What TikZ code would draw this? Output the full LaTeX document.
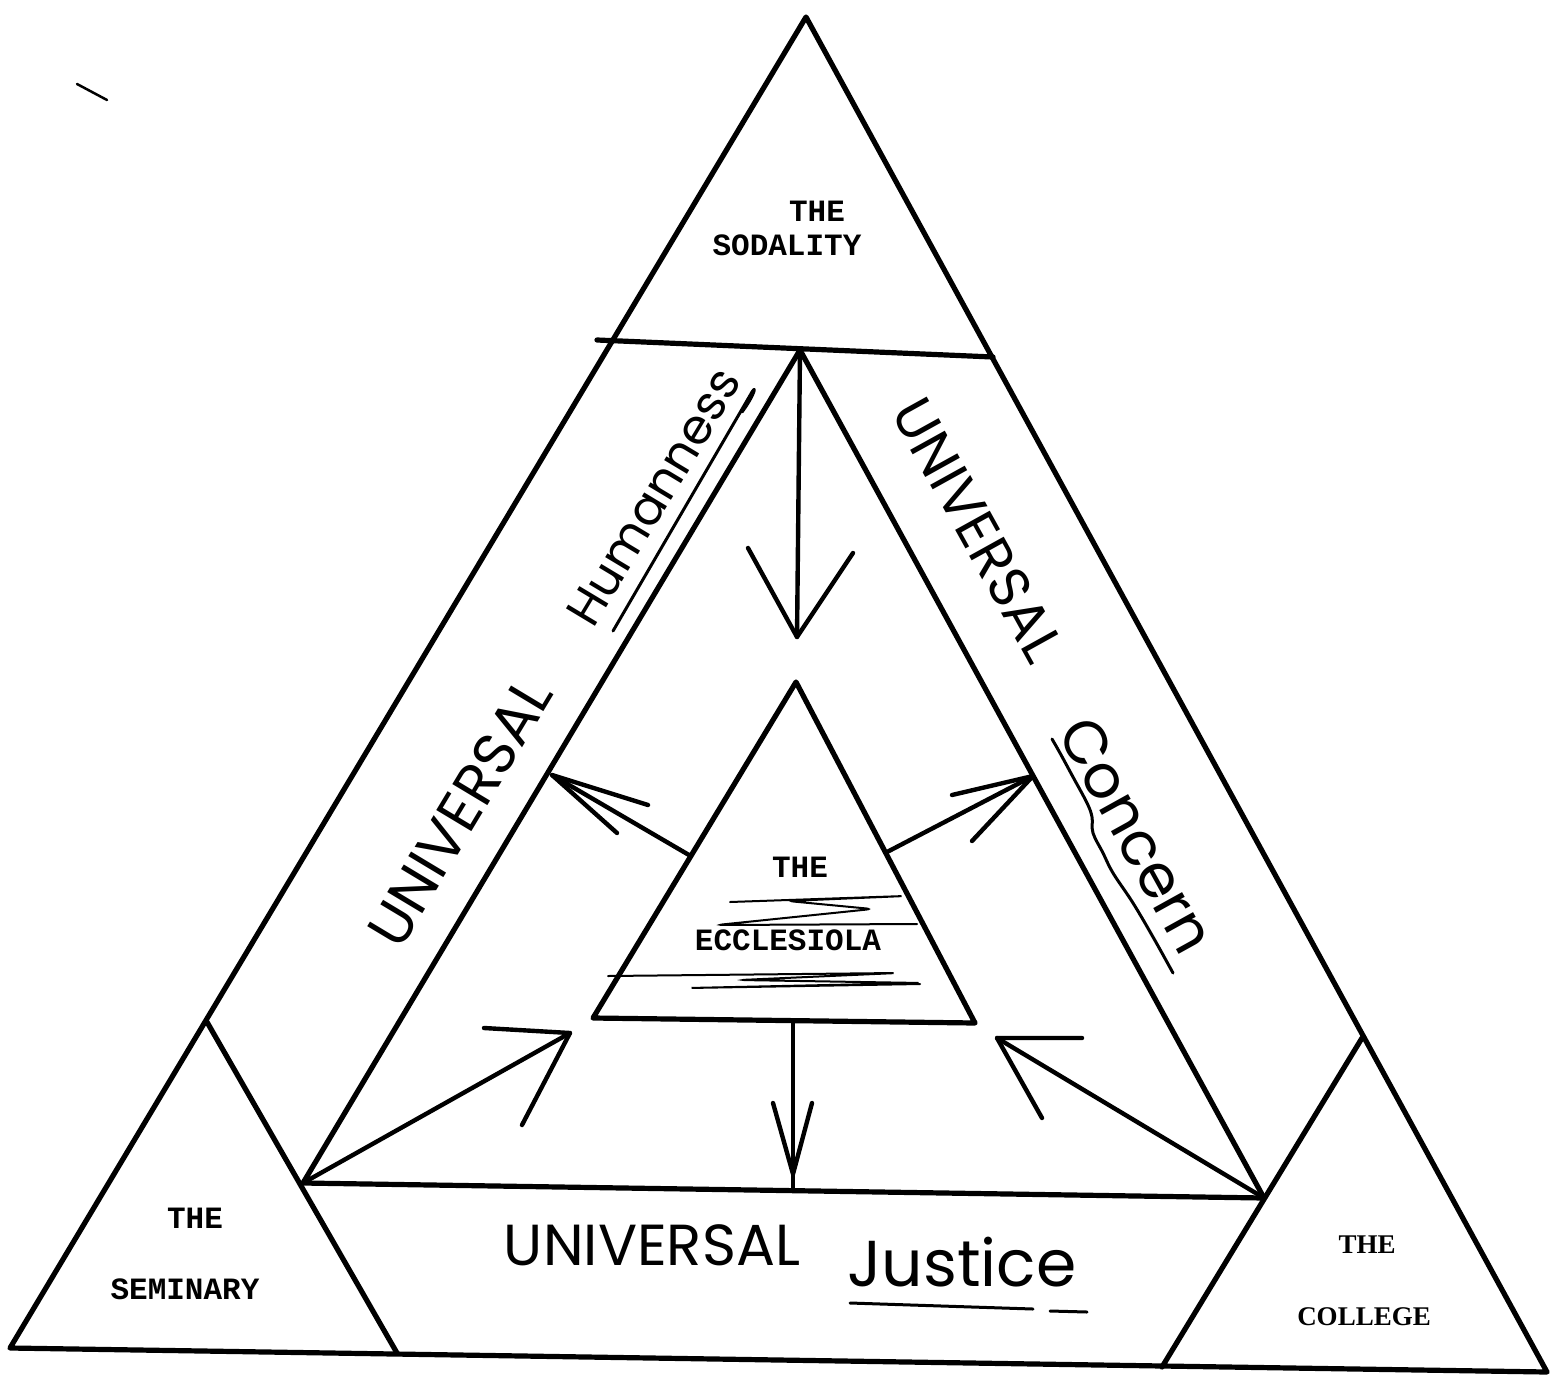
\documentclass[tikz,border=0pt]{standalone}
\usepackage{fontspec}
\newfontfamily\typed{Liberation Mono}
\newfontfamily\typeserif{Liberation Serif}
\newfontfamily\hand{Poppins}
\begin{document}
\begin{tikzpicture}[x=1pt,y=-1pt,
  edge/.style={line width=5.2pt, line cap=round, line join=round},
  arr/.style={line width=4.4pt, line cap=round, line join=round},
  penline/.style={line width=3pt, line cap=round, line join=round},
  scrib/.style={line width=2pt, line cap=round, rounded corners=6pt},
  typedlbl/.style={font=\typed\bfseries\fontsize{31}{31}\selectfont, inner sep=0pt},
  seriflbl/.style={font=\typeserif\bfseries\fontsize{27}{27}\selectfont, inner sep=0pt},
  handlbl/.style={font=\hand\fontsize{46}{46}\selectfont, inner sep=0pt}
]
\useasboundingbox (0,0) rectangle (1554,1386);
\fill[white] (0,0) rectangle (1554,1386);

% ---------- outer triangle and its divisions ----------
\coordinate (top)  at (806,17);
\coordinate (bl)   at (10,1348);
\coordinate (br)   at (1547,1372);
\coordinate (hl)   at (597,340);
\coordinate (hr)   at (993,357);
\coordinate (semtop) at (207,1022);
\coordinate (semr) at (397,1353);
\coordinate (coltop) at (1362,1038);
\coordinate (coll) at (1162,1367);

% middle triangle
\coordinate (ma) at (800,350);
\coordinate (ml) at (303,1183);
\coordinate (mr) at (1264,1198);

% ecclesiola triangle
\coordinate (ea) at (796,682);
\coordinate (el) at (593,1018);
\coordinate (er) at (975,1023);

\draw[edge] (top) -- (bl) -- (br) -- cycle;
\draw[edge] (hl) -- (hr);
\draw[edge] (semtop) -- (semr);
\draw[edge] (coltop) -- (coll);
\draw[edge] (ma) -- (ml) -- (mr) -- cycle;
\draw[edge] (ea) -- (el) -- (er) -- cycle;

% ---------- arrows ----------
% down from apex
\coordinate (a1tip) at (797,637);
\coordinate (a1w1) at (748,548);
\coordinate (a1w2) at (853,553);
\draw[arr] (ma) -- (a1tip);
\draw[arr] (a1w1) -- (a1tip) -- (a1w2);

% down from ecclesiola
\coordinate (a2s) at (793,1021);
\coordinate (a2e) at (793,1190);
\coordinate (a2tip) at (793,1174);
\coordinate (a2w1) at (773,1103);
\coordinate (a2w2) at (812,1103);
\draw[arr] (a2s) -- (a2e);
\draw[arr] (a2w1) -- (a2tip) -- (a2w2);

% left
\coordinate (a3s) at (689,855);
\coordinate (a3tip) at (552,775);
\coordinate (a3w1) at (648,805);
\coordinate (a3w2) at (617,833);
\draw[arr] (a3s) -- (a3tip);
\draw[arr] (a3w1) -- (a3tip) -- (a3w2);

% right
\coordinate (a4s) at (887,852);
\coordinate (a4tip) at (1033,776);
\coordinate (a4w1) at (952,795);
\coordinate (a4w2) at (972,841);
\draw[arr] (a4s) -- (a4tip);
\draw[arr] (a4w1) -- (a4tip) -- (a4w2);

% bottom left
\coordinate (a5tip) at (570,1033);
\coordinate (a5w1) at (484,1028);
\coordinate (a5w2) at (522,1125);
\draw[arr] (ml) -- (a5tip);
\draw[arr] (a5w1) -- (a5tip) -- (a5w2);

% bottom right
\coordinate (a6tip) at (997,1038);
\coordinate (a6w1) at (1082,1038);
\coordinate (a6w2) at (1042,1118);
\draw[arr] (mr) -- (a6tip);
\draw[arr] (a6w1) -- (a6tip) -- (a6w2);

% ---------- typed labels ----------
\node[typedlbl] (sodthe) at (817,211) {THE};
\node[typedlbl] (sod) at (787,245) {SODALITY};
\node[typedlbl] (ecthe) at (800,867) {THE};
\node[typedlbl] (ec) at (788,940) {ECCLESIOLA};
\node[typedlbl] (semthe) at (195,1218) {THE};
\node[typedlbl] (sem) at (185,1289) {SEMINARY};
\node[seriflbl] (colthe) at (1367,1245) {THE};
\node[seriflbl] (col) at (1364,1317) {COLLEGE};

% scribbles in the ecclesiola
\draw[scrib] (730,902) -- (905,896) -- (788,901) -- (872,909) -- (717,925) -- (917,924);
\draw[scrib] (608,976) -- (897,973) -- (740,980) -- (922,983) -- (688,988) -- (920,984);

% ---------- handwritten labels ----------
\node[handlbl, rotate=59] (uh1) at (460,812) {\resizebox{300pt}{!}{UNIVERSAL}};
\node[handlbl, rotate=59] (uh2) at (654,497) {\resizebox{290pt}{!}{Humanness}};
\node[handlbl, rotate=-61] (uc1) at (978,530) {\resizebox{290pt}{!}{UNIVERSAL}};
\node[handlbl, rotate=-61] (uc2) at (1137,835) {\resizebox{258pt}{!}{Concern}};
\node[handlbl] (uj1) at (652,1245) {\resizebox{296pt}{!}{UNIVERSAL}};
\node[handlbl] (uj2) at (962,1262) {\resizebox{229pt}{!}{Justice}};

% underlines
\coordinate (hu1) at (613,631);
\coordinate (hu2) at (752,392);
\draw[penline] (hu1) -- (hu2);
\draw[penline] (hu2) .. controls (757,384) and (754,396) .. (742,412);
\draw[penline] plot[smooth, tension=0.6] coordinates {(1052,739) (1060,753) (1073,777) (1087,803) (1092,817) (1093,833) (1103,853) (1113,873) (1133,903) (1153,937) (1173,973)};
\coordinate (ju1) at (850,1303);
\coordinate (ju2) at (1033,1309);
\coordinate (ju3) at (1050,1311);
\coordinate (ju4) at (1087,1312);
\draw[penline] (ju1) -- (ju2);
\draw[penline] (ju3) -- (ju4);

% stray mark
\coordinate (m1) at (77,84);
\coordinate (m2) at (107,100);
\draw[line width=2.5pt, line cap=round] (m1) -- (m2);
\end{tikzpicture}
\end{document}
